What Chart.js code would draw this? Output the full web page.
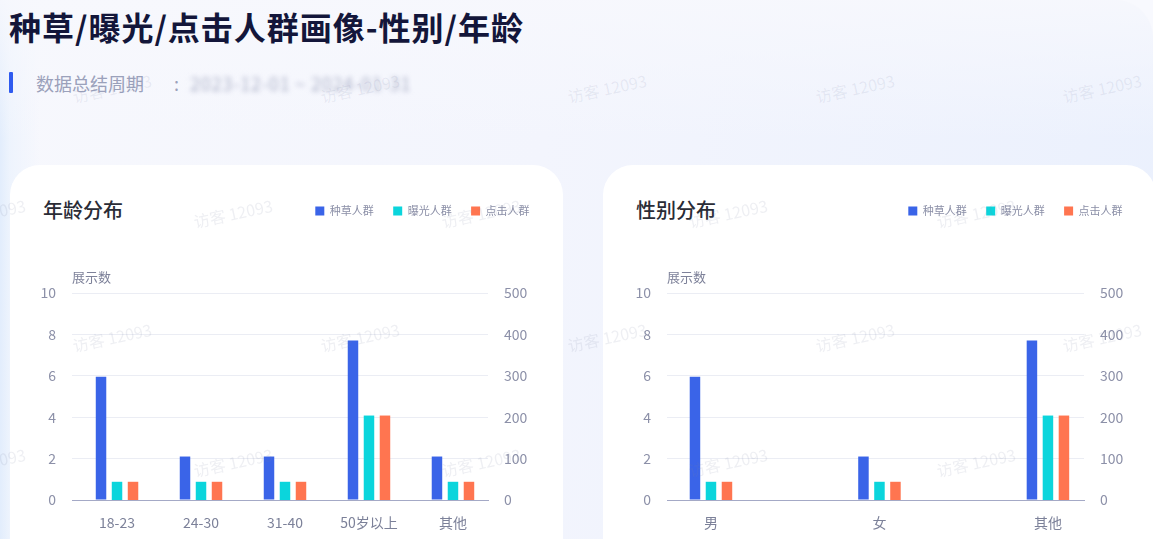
<!DOCTYPE html>
<html>
<head>
<meta charset="utf-8">
<script src="https://cdn.jsdelivr.net/npm/chart.js@4.4.1/dist/chart.umd.min.js"></script>
<style>
  html, body { margin: 0; padding: 0; }
  body {
    width: 1153px; height: 539px; overflow: hidden; position: relative;
    background: #f8f9fe;
    font-family: 'Noto Sans CJK SC', 'Noto Sans', sans-serif;
  }
  .bg {
    position: absolute; left: 0; top: 0; width: 1153px; height: 620px;
    border-top-right-radius: 38px;
    background:
      linear-gradient(180deg, rgba(247,248,253,0.9) 0px, rgba(247,248,253,0) 140px),
      linear-gradient(90deg, rgba(226,237,252,1) 0px, rgba(232,241,253,0.6) 10px, rgba(240,244,253,0) 40px),
      linear-gradient(100deg, #f7f8fd 0%, #f3f5fd 45%, #eaf0fd 100%);
  }
  .title {
    position: absolute; left: 9px; top: 6px; margin: 0;
    font-size: 32px; font-weight: 700; color: #13163a; line-height: 40px;
    white-space: nowrap; letter-spacing: 1px;
  }
  .sub-bar { position: absolute; left: 9px; top: 72px; width: 4px; height: 21px; background: #2f5bef; border-radius: 1px; }
  .sub {
    position: absolute; left: 36px; top: 70px; font-size: 18px; line-height: 26px;
    color: #9ba1bb; white-space: nowrap;
  }
  .sub .colon { margin-left: 30px; }
  .sub .date { margin-left: 11px; filter: blur(2.6px); color: #aeb3ca; letter-spacing: 0.8px; }
  .card {
    position: absolute; top: 165px; width: 553px; height: 420px;
    background: #ffffff; border-radius: 30px; overflow: hidden;
  }
  .card h2 {
    position: absolute; left: 33px; top: 33px; margin: 0;
    font-size: 20px; font-weight: 500; line-height: 24px; color: #2a2c36;
  }
  .card canvas { position: absolute; left: 0; top: 0; }
  .wm {
    position: absolute; font-size: 16px; line-height: 18px; white-space: nowrap;
    color: rgba(120,130,165,0.13); transform: translate(-50%, -50%) rotate(-12deg);
    pointer-events: none; z-index: 10;
  }
</style>
</head>
<body>
<div class="bg"></div>
<h1 class="title">种草/曝光/点击人群画像-性别/年龄</h1>
<div class="sub-bar"></div>
<div class="sub">数据总结周期<span class="colon">:</span><span class="date">2023-12-01 ~ 2024-01-31</span></div>

<div class="card" style="left:10px;">
  <h2>年龄分布</h2>
  <canvas id="ageChart" width="553" height="388"></canvas>
</div>
<div class="card" style="left:603px;">
  <h2>性别分布</h2>
  <canvas id="genderChart" width="553" height="388"></canvas>
</div>

<script>
// ---------- data ----------
const seriesNames = ['种草人群', '曝光人群', '点击人群'];
const seriesColors = ['#3a64e8', '#0bd5dc', '#ff7550'];

const ageCategories = ['18-23', '24-30', '31-40', '50岁以上', '其他'];
const ageSeed = [5.95, 2.1, 2.1, 7.7, 2.1];        // 种草人群 (left axis)
const ageExposure = [44, 44, 44, 204, 44];         // 曝光人群 (right axis)
const ageClick = [44, 44, 44, 204, 44];            // 点击人群 (right axis)

const genderCategories = ['男', '女', '其他'];
const genderSeed = [5.95, 2.1, 7.7];
const genderExposure = [44, 44, 204];
const genderClick = [44, 44, 204];

const leftTicks = [0, 2, 4, 6, 8, 10];
const rightTicks = [0, 100, 200, 300, 400, 500];
const axisTitle = '展示数';

// ---------- chart builder ----------
const FONT = "'Noto Sans CJK SC', 'Noto Sans', sans-serif";

function toPoints(values) {
  return values.map((v, i) => ({ x: i, y: v }));
}

function buildChart(canvasId, categories, seed, exposure, click, geo) {
  const datasets = [
    { label: seriesNames[0], data: toPoints(seed), backgroundColor: seriesColors[0], yAxisID: 'y', xAxisID: 'x' },
    { label: seriesNames[1], data: toPoints(exposure), backgroundColor: seriesColors[1], yAxisID: 'y1', xAxisID: 'x' },
    { label: seriesNames[2], data: toPoints(click), backgroundColor: seriesColors[2], yAxisID: 'y1', xAxisID: 'x' }
  ];
  return new Chart(document.getElementById(canvasId), {
    type: 'bar',
    data: { datasets },
    options: {
      responsive: false,
      animation: false,
      devicePixelRatio: 1,
      categoryPercentage: geo.cp,
      barPercentage: 0.656,
      layout: { padding: { top: 21, right: 14, bottom: 8.2, left: 0 } },
      plugins: {
        legend: {
          position: 'top', align: 'end',
          labels: {
            boxWidth: 9, boxHeight: 9, padding: 19.4,
            color: '#8a8ea6', font: { family: FONT, size: 11 }
          }
        },
        tooltip: { enabled: false }
      },
      scales: {
        x: {
          type: 'linear', position: 'bottom', offset: false,
          min: geo.xMin, max: geo.xMax,
          afterBuildTicks: (axis) => { axis.ticks = categories.map((c, i) => ({ value: i })); },
          ticks: {
            callback: (v) => categories[v],
            color: '#7c8199', padding: 14, autoSkip: false, maxRotation: 0,
            font: { family: FONT, size: 14 }
          },
          grid: { display: false, drawTicks: false, offset: false },
          border: { display: true, color: '#a4a9c6', width: 1 }
        },
        xTop: {
          type: 'linear', position: 'top', min: 0, max: 1, offset: false,
          ticks: { display: false },
          grid: { display: false, drawTicks: false },
          border: { display: false },
          title: {
            display: true, text: axisTitle, align: 'start', color: '#7d8199',
            font: { family: FONT, size: 13 },
            padding: { top: 43.3, bottom: 7.7 }
          }
        },
        y: {
          type: 'linear', position: 'left',
          min: leftTicks[0], max: leftTicks[leftTicks.length - 1],
          afterBuildTicks: (axis) => { axis.ticks = leftTicks.map(v => ({ value: v })); },
          afterFit: (axis) => { axis.width = geo.leftW; },
          ticks: { color: '#8c90a8', padding: 16, font: { family: FONT, size: 14 } },
          grid: { color: '#ebedf4', lineWidth: 1, drawTicks: false },
          border: { display: false }
        },
        y1: {
          type: 'linear', position: 'right',
          min: rightTicks[0], max: rightTicks[rightTicks.length - 1],
          afterBuildTicks: (axis) => { axis.ticks = rightTicks.map(v => ({ value: v })); },
          afterFit: (axis) => { axis.width = geo.rightW; },
          ticks: { color: '#8c90a8', padding: 16, font: { family: FONT, size: 14 } },
          grid: { display: false, drawTicks: false },
          border: { display: false }
        }
      }
    }
  });
}

buildChart('ageChart', ageCategories, ageSeed, ageExposure, ageClick,
  { xMin: -0.536, xMax: 4.417, leftW: 62, rightW: 61, cp: 0.5714 });
buildChart('genderChart', genderCategories, genderSeed, genderExposure, genderClick,
  { xMin: -0.261, xMax: 2.214, leftW: 64, rightW: 58, cp: 0.2849 });

// ---------- watermark overlay ----------
const wmText = '访客 12093';
const wmRows = [88, 212.5, 337, 461.5];
for (let r = 0; r < wmRows.length; r++) {
  const start = (r % 2 === 0) ? 112 : -14.5;
  for (let k = 0; k < 6; k++) {
    const d = document.createElement('div');
    d.className = 'wm';
    d.textContent = wmText;
    d.style.left = (start + k * 247.5) + 'px';
    d.style.top = wmRows[r] + 'px';
    document.body.appendChild(d);
  }
}
</script>
</body>
</html>
